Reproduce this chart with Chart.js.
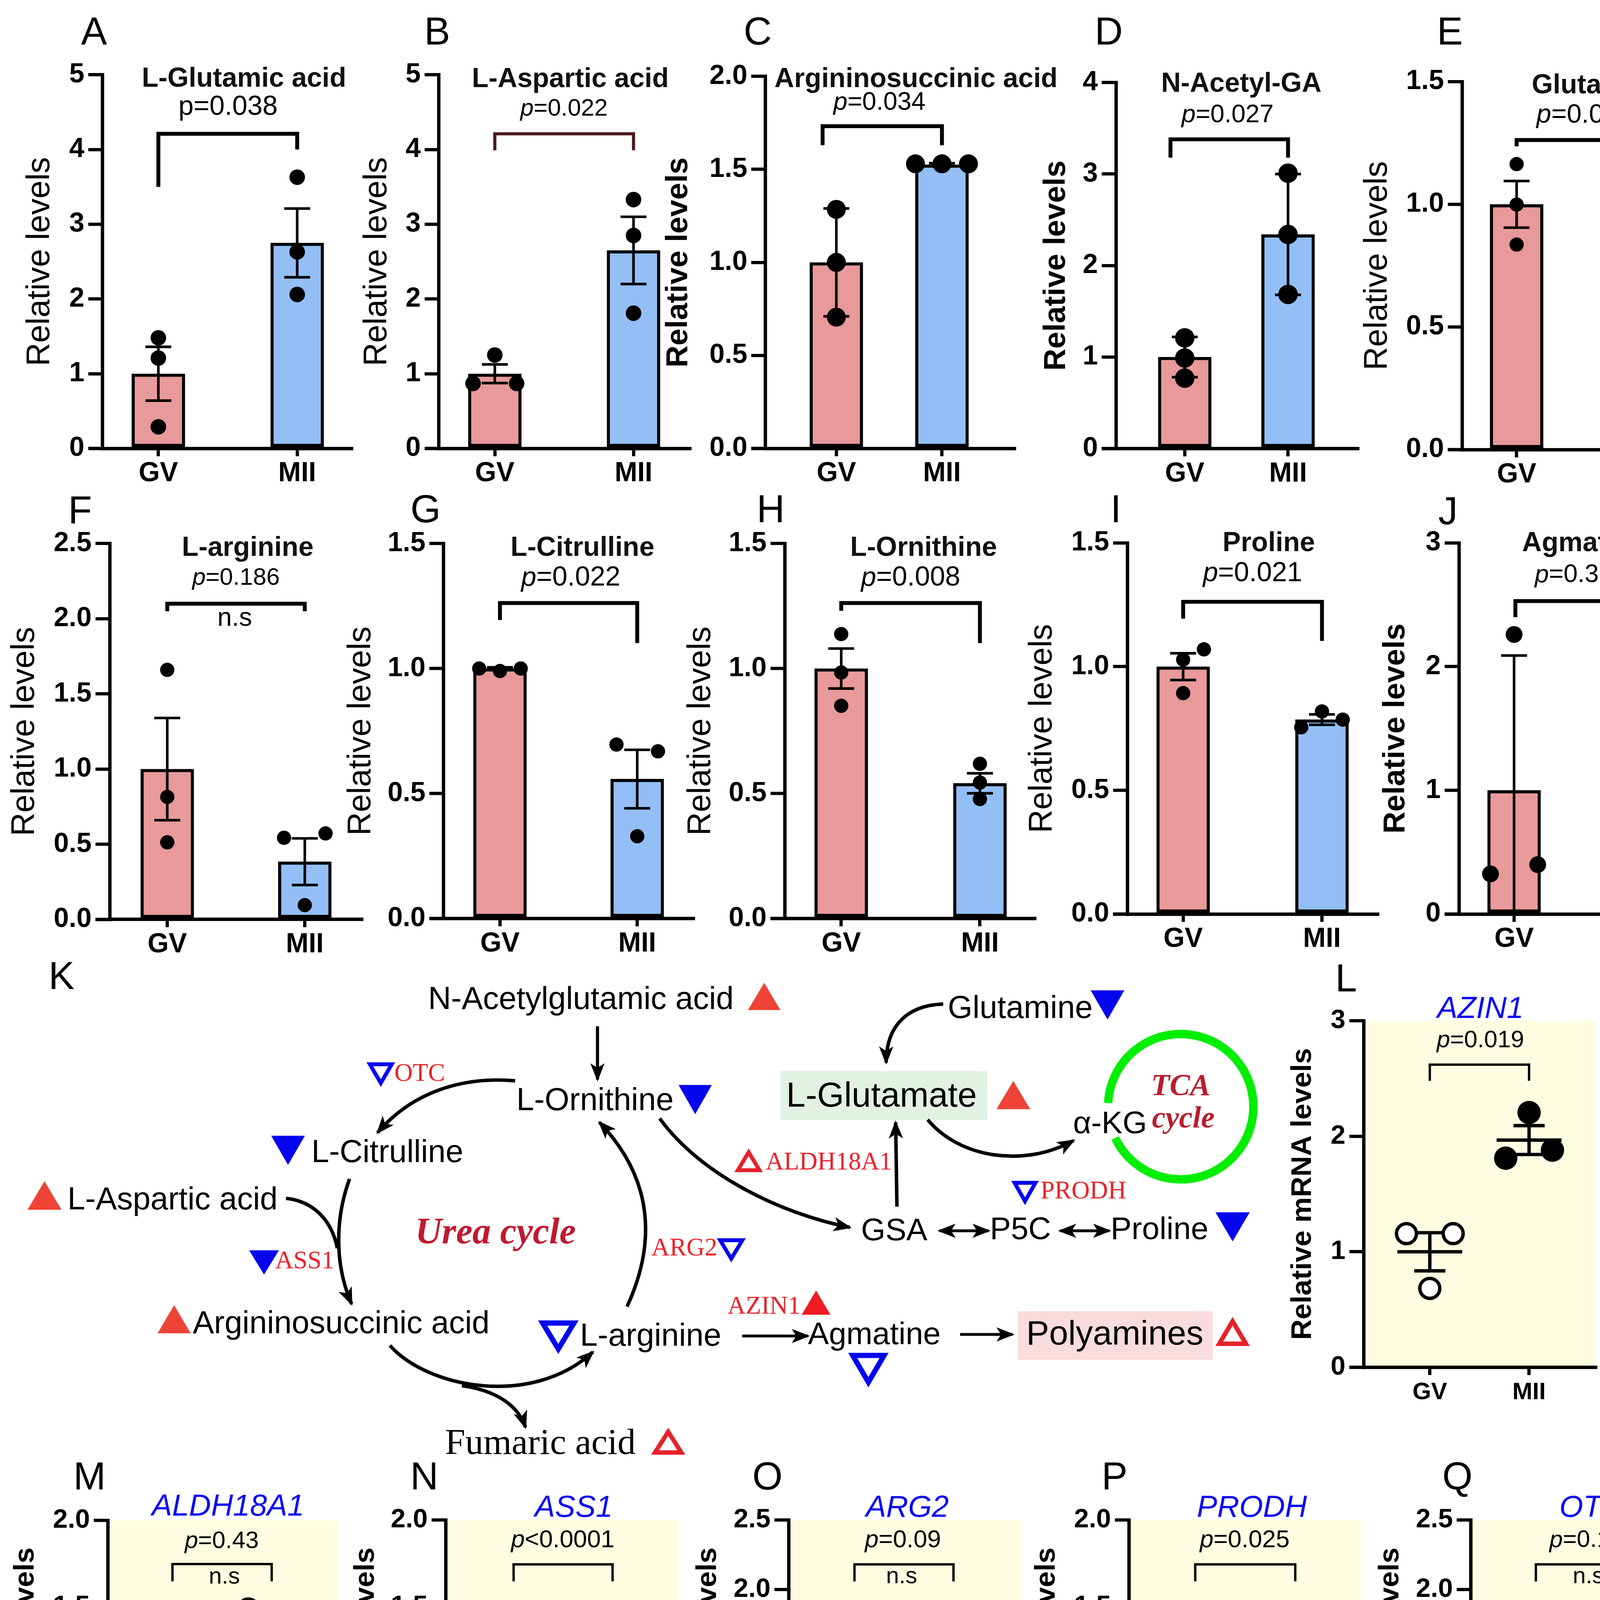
<!DOCTYPE html>
<html>
<head>
<meta charset="utf-8">
<title>Urea cycle and glutamate metabolism: GV vs MII</title>
<script src="https://cdn.jsdelivr.net/npm/chart.js@4.4.1/dist/chart.umd.min.js"></script>
<style>
html,body{margin:0;padding:0;background:#fff;}
#root{position:relative;width:4401px;height:5215px;overflow:hidden;background:#fff;}
#root canvas{position:absolute;}
#diagram{position:absolute;left:0;top:0;width:4401px;height:5215px;}
</style>
</head>
<body>
<div id="root"><div id="diagram"></div></div>
<script>
// ================= DATA =================
const groups = ['GV', 'MII'];

const ticks0to5  = ['0', '1', '2', '3', '4', '5'];
const ticks0to4  = ['0', '1', '2', '3', '4'];
const ticks0to3  = ['0', '1', '2', '3'];
const ticks0to2  = ['0.0', '0.5', '1.0', '1.5', '2.0'];
const ticks0to15 = ['0.0', '0.5', '1.0', '1.5'];
const ticks0to25 = ['0.0', '0.5', '1.0', '1.5', '2.0', '2.5'];

// A  L-Glutamic acid
const glutamicGV = [1.48, 1.21, 0.29];
const glutamicMII = [3.63, 2.63, 2.06];
const glutamicMean = [1.0, 2.75];
const glutamicErr = [0.36, 0.46];
// B  L-Aspartic acid
const asparticGV = [1.25, 0.87, 0.87];
const asparticMII = [3.33, 2.85, 1.81];
const asparticMean = [1.0, 2.65];
const asparticErr = [0.125, 0.45];
// C  Argininosuccinic acid
const asaGV = [1.285, 1.0, 0.706];
const asaMII = [1.53, 1.53, 1.53];
const asaMean = [1.0, 1.525];
const asaErr = [0.29, 0.008];
// D  N-Acetyl-GA
const nagGV = [1.21, 0.99, 0.77];
const nagMII = [3.01, 2.34, 1.685];
const nagMean = [1.0, 2.34];
const nagErr = [0.22, 0.66];
// E  Glutamine
const glnGV = [1.164, 0.999, 0.836];
const glnMII = [0.614, 0.474, 0.34];
const glnMean = [1.0, 0.474];
const glnErr = [0.095, 0.08];
// F  L-arginine
const arginineGV = [1.66, 0.815, 0.513];
const arginineMII = [0.543, 0.572, 0.095];
const arginineMean = [1.0, 0.384];
const arginineErr = [0.34, 0.155];
// G  L-Citrulline
const citrullineGV = [0.99, 1.0, 1.0];
const citrullineMII = [0.696, 0.669, 0.329];
const citrullineMean = [1.0, 0.558];
const citrullineErr = [0.005, 0.117];
// H  L-Ornithine
const ornithineGV = [1.138, 0.984, 0.851];
const ornithineMII = [0.619, 0.544, 0.478];
const ornithineMean = [1.0, 0.541];
const ornithineErr = [0.08, 0.04];
// I  Proline
const prolineGV = [1.028, 1.07, 0.893];
const prolineMII = [0.755, 0.819, 0.786];
const prolineMean = [1.0, 0.786];
const prolineErr = [0.054, 0.021];
// J  Agmatine
const agmatineGV = [2.26, 0.325, 0.40];
const agmatineMII = [0.75, 0.096, 0.176];
const agmatineMean = [1.0, 0.325];
const agmatineErr = [1.09, 0.365];
// L  AZIN1
const azin1GV = [1.157, 1.157, 0.683];
const azin1MII = [2.205, 1.81, 1.88];
const azin1Mean = [1.0, 1.967];
const azin1Err = [0.165, 0.125];
// M  ALDH18A1
const aldhGV = [1.093, 1.013, 0.894];
const aldhMII = [1.487, 1.452, 1.212];
const aldhMean = [1.0, 1.382];
const aldhErr = [0.058, 0.09];
// N  ASS1
const ass1GV = [1.31, 1.147, 0.543];
const ass1MII = [0, 0, 0];
const ass1Mean = [1.0, 0];
const ass1Err = [0.233, 0];
// O  ARG2
const arg2GV = [1.627, 0.683, 0.694];
const arg2MII = [0.565, 0.506, 0.442];
const arg2Mean = [1.0, 0.506];
const arg2Err = [0.31, 0.036];
// P  PRODH
const prodhGV = [1.414, 1.172, 0.414];
const prodhMII = [0.276, 0.043, 0.047];
const prodhMean = [1.0, 0.116];
const prodhErr = [0.3, 0.077];
// Q  OTC
const otcGV = [1.825, 1.168, 0.01];
const otcMII = [0.114, 0.037, 0.047];
const otcMean = [1.0, 0.066];
const otcErr = [0.53, 0.025];

// ================= STYLE / LAYOUT =================
const S = 4401 / 1325;
const SANS = '"Liberation Sans", Arial, sans-serif';
const SERIF = '"Liberation Serif", "Times New Roman", serif';
const PINK = '#E79A99', BLUE = '#93BFF6', YELLOW = '#FEFDE1';
const root = document.getElementById('root');

function swarm(vals, r, step, pyu, thr) {
  const d = 2 * r * 0.98;
  const placed = [];
  const slots = [0, 1, -1, 2, -2, 3, -3];
  vals.forEach(v => {
    for (const s of slots) {
      if (placed.every(q => Math.hypot((q.s - s) * step, (q.v - v) * pyu) >= d)) { placed.push({v, s}); return; }
    }
    placed.push({v, s: 0});
  });
  placed.forEach(p => {
    if (p.s !== 1) return;
    const c = placed.filter(q => q.s === 0 && Math.abs(q.v - p.v) * pyu < thr * 2 * r)
      .sort((a, b) => Math.abs(a.v - p.v) - Math.abs(b.v - p.v))[0];
    if (!c) return;
    if (placed.every(o => o === c || Math.hypot((o.s + 1) * step, (o.v - c.v) * pyu) >= d)) c.s = -1;
  });
  return placed.map(q => q.s * step);
}

function makePanel(p) {
  const rowTop = p.canvasTop;
  const cl = p.yLabel.x - 16;
  const cr = p.rightX + 45;
  const cb = p.zeroY + 36;
  const W = Math.round((cr - cl) * S), H = Math.round((cb - rowTop) * S);
  const yW = (p.axisX - cl) * S;
  const padTop = (p.topY - rowTop) * S;
  const padRight = W - (p.rightX - cl) * S;
  const xH = H - (p.zeroY - rowTop) * S;
  const cv = document.createElement('canvas');
  cv.width = W; cv.height = H;
  cv.style.left = (cl * S) + 'px'; cv.style.top = (rowTop * S) + 'px';
  cv.style.width = W + 'px'; cv.style.height = H + 'px';
  root.appendChild(cv);

  const unit = p.miiX - p.gvX;
  const xMin = 1 - (p.gvX - p.axisX) / unit;
  const xMax = 2 + (p.rightX - p.miiX) / unit;
  const yMax = parseFloat(p.ticks[p.ticks.length - 1]);
  const pyu = (p.zeroY - p.topY) / yMax;
  const isBar = p.kind === 'bar';
  const step = isBar ? Math.max(16, 2.8 * p.r) : 2 * p.r;
  const thr = isBar ? 0.65 : 0.5;
  const offG = swarm(p.gv, p.r, step, pyu, thr);
  const offM = swarm(p.mii, p.r, step, pyu, thr);
  const ptsG = p.gv.map((v, i) => ({x: 1 + offG[i] / unit, y: v}));
  const ptsM = p.mii.map((v, i) => ({x: 2 + offM[i] / unit, y: v}));

  const datasets = [];
  if (isBar) {
    datasets.push({type: 'bar', data: [{x: 1, y: p.mean[0]}, {x: 2, y: p.mean[1]}],
      backgroundColor: [PINK, BLUE], borderColor: '#000', borderWidth: 2.4 * S, borderSkipped: false,
      barThickness: 41 * S, order: 2, clip: false});
    datasets.push({type: 'scatter', data: ptsG.concat(ptsM), pointRadius: p.r * S,
      pointBackgroundColor: '#000', pointBorderColor: '#000', pointBorderWidth: 0, order: 1, clip: false});
  } else {
    datasets.push({type: 'scatter', data: ptsG, pointRadius: (p.r - 1.3) * S,
      pointBackgroundColor: '#fff', pointBorderColor: '#000', pointBorderWidth: 2.6 * S, order: 2, clip: false});
    datasets.push({type: 'scatter', data: ptsM, pointRadius: p.r * S,
      pointBackgroundColor: '#000', pointBorderColor: '#000', pointBorderWidth: 0, order: 1, clip: false});
  }

  const X = x => (x - cl) * S, Y = y => (y - rowTop) * S;

  function errBars(chart, withMean) {
    const ctx = chart.ctx, xs = chart.scales.x, ys = chart.scales.y;
    ctx.save();
    ctx.strokeStyle = '#000';
    ctx.lineWidth = (withMean ? 2.6 : 2.0) * S;
    ctx.lineCap = 'butt';
    const capH = (withMean ? 12 : 10) * S, meanH = 25 * S;
    [0, 1].forEach(i => {
      const x = xs.getPixelForValue(i + 1);
      const m = p.mean[i], e = p.err[i];
      const top = ys.getPixelForValue(m + e);
      const lowV = Math.max(0, m - e);
      const bot = ys.getPixelForValue(lowV);
      ctx.beginPath();
      ctx.moveTo(x, top); ctx.lineTo(x, bot);
      ctx.moveTo(x - capH, top); ctx.lineTo(x + capH, top);
      if (m - e > 0) { ctx.moveTo(x - capH, bot); ctx.lineTo(x + capH, bot); }
      if (withMean) {
        const mp = ys.getPixelForValue(m);
        ctx.moveTo(x - meanH, mp); ctx.lineTo(x + meanH, mp);
      }
      ctx.stroke();
    });
    ctx.restore();
  }

  const plugin = {
    id: 'panel' + p.id,
    beforeDraw(chart) {
      if (!isBar) {
        const a = chart.chartArea, ctx = chart.ctx;
        ctx.save(); ctx.fillStyle = YELLOW;
        ctx.fillRect(a.left, a.top, a.right - a.left, a.bottom - a.top);
        ctx.restore();
      }
    },
    beforeDatasetsDraw(chart) {
      const a = chart.chartArea, ctx = chart.ctx;
      ctx.save(); ctx.strokeStyle = '#000'; ctx.lineWidth = 2.6 * S;
      ctx.beginPath(); ctx.moveTo(a.left - 11 * S, a.bottom); ctx.lineTo(a.left, a.bottom); ctx.stroke();
      ctx.restore();
      if (!isBar) errBars(chart, true);
    },
    afterDatasetDraw(chart, args) { if (isBar && args.index === 0) errBars(chart, false); },
    afterDraw(chart) {
      const ctx = chart.ctx, xs = chart.scales.x, ys = chart.scales.y;
      ctx.save();
      // significance bracket
      const b = p.bracket;
      const bx1 = b.lx != null ? X(b.lx) : xs.getPixelForValue(1);
      const bx2 = b.rx != null ? X(b.rx) : xs.getPixelForValue(2);
      ctx.strokeStyle = b.color || '#000';
      ctx.lineWidth = b.lw * S; ctx.lineJoin = 'miter'; ctx.lineCap = 'butt';
      ctx.beginPath();
      ctx.moveTo(bx1, ys.getPixelForValue(b.l));
      ctx.lineTo(bx1, ys.getPixelForValue(b.top));
      ctx.lineTo(bx2, ys.getPixelForValue(b.top));
      ctx.lineTo(bx2, ys.getPixelForValue(b.r));
      ctx.stroke();
      // title
      ctx.textBaseline = 'middle';
      ctx.textAlign = 'center';
      const t = p.title;
      if (t.gene) {
        ctx.fillStyle = '#0A0AF5';
        ctx.font = 'italic ' + (23.5 * S) + 'px ' + SANS;
      } else {
        ctx.fillStyle = '#111';
        ctx.font = 'bold ' + (21 * S) + 'px ' + SANS;
      }
      ctx.fillText(t.text, X(t.x), Y(t.y));
      // p value
      const pt = p.pText;
      const f1 = (pt.italicP ? 'italic ' : '') + (pt.size * S) + 'px ' + SANS;
      const f2 = (pt.size * S) + 'px ' + SANS;
      ctx.fillStyle = '#000';
      ctx.font = f1; const w1 = ctx.measureText('p').width;
      ctx.font = f2; const rest = pt.text.slice(1); const w2 = ctx.measureText(rest).width;
      const sx = X(pt.x) - (w1 + w2) / 2;
      ctx.textAlign = 'left';
      ctx.font = f1; ctx.fillText('p', sx, Y(pt.y));
      ctx.font = f2; ctx.fillText(rest, sx + w1, Y(pt.y));
      // n.s
      if (p.ns) {
        ctx.textAlign = 'center';
        ctx.font = (p.ns.size * S) + 'px ' + SANS;
        ctx.fillText('n.s', X(p.ns.x), Y(p.ns.y));
      }
      ctx.restore();
    }
  };

  const gridY = {display: true, drawOnChartArea: false, drawTicks: true, tickLength: 11 * S,
    tickWidth: 2.5 * S, tickColor: '#000', color: '#000', lineWidth: 2.5 * S};
  const gridX = {display: true, offset: false, drawOnChartArea: false, drawTicks: true, tickLength: 6 * S,
    tickWidth: 2.5 * S, tickColor: '#000', color: '#000', lineWidth: 2.5 * S};

  new Chart(cv, {
    type: 'scatter',
    data: {datasets},
    options: {
      responsive: false, animation: false, devicePixelRatio: 1, events: [],
      layout: {padding: {top: padTop, right: padRight, left: 0, bottom: 0}},
      plugins: {legend: {display: false}, tooltip: {enabled: false}, title: {display: false}},
      scales: {
        x: {type: 'linear', min: xMin, max: xMax, offset: false, bounds: 'data',
          afterBuildTicks: s => { s.ticks = [{value: 1}, {value: 2}]; },
          afterFit: s => { s.height = xH; },
          grid: gridX,
          border: {display: true, color: '#000', width: 2.6 * S},
          ticks: {color: '#000', padding: (19.6 - 6 - p.xSize / 2) * S, maxRotation: 0, autoSkip: false,
            font: {family: SANS, size: p.xSize * S, weight: 'bold', lineHeight: 1},
            callback: v => groups[Math.round(v) - 1]}},
        y: {type: 'linear', min: 0, max: yMax,
          afterBuildTicks: s => { s.ticks = p.ticks.map(t => ({value: parseFloat(t)})); },
          afterFit: s => { s.width = yW; },
          grid: gridY,
          border: {display: true, color: '#000', width: 2.6 * S},
          ticks: {color: '#000', padding: 3 * S, autoSkip: false,
            font: {family: SANS, size: p.tickSize * S, weight: 'bold', lineHeight: 1},
            callback: (v, i) => p.ticks[i]},
          title: {display: true, text: p.yLabel.text, color: '#000',
            font: {family: SANS, size: p.yLabel.size * S, weight: p.yLabel.bold ? 'bold' : 'normal', lineHeight: 1},
            padding: {top: (p.yLabel.x - cl) * S - p.yLabel.size * S / 2, bottom: 0}}}
      }
    },
    plugins: [plugin]
  });
}

const RL = 'Relative levels', RM = 'Relative mRNA levels';
const row1 = {kind: 'bar', canvasTop: 40, tickSize: 21, xSize: 21};
const row2 = {kind: 'bar', canvasTop: 405, tickSize: 21, xSize: 21};
const rowL = {kind: 'dot', canvasTop: 765, tickSize: 20.5, xSize: 18.5, r: 9};
const row4 = {kind: 'dot', canvasTop: 1145, tickSize: 20.5, xSize: 18.5, r: 9};

const panels = [
  Object.assign({}, row1, {id: 'A', axisX: 79, rightX: 271, gvX: 122, miiX: 229, zeroY: 345.6, topY: 57.6,
    ticks: ticks0to5, gv: glutamicGV, mii: glutamicMII, mean: glutamicMean, err: glutamicErr, r: 6,
    yLabel: {text: RL, x: 31, bold: false, size: 25},
    title: {text: 'L-Glutamic acid', x: 188, y: 61},
    pText: {text: 'p=0.038', x: 175.7, y: 82.7, size: 21, italicP: false},
    bracket: {top: 4.21, l: 3.5, r: 4.0, lw: 3}}),
  Object.assign({}, row1, {id: 'B', axisX: 338.4, rightX: 532, gvX: 381.5, miiX: 488.4, zeroY: 345.6, topY: 57.6,
    ticks: ticks0to5, gv: asparticGV, mii: asparticMII, mean: asparticMean, err: asparticErr, r: 6,
    yLabel: {text: RL, x: 291, bold: false, size: 25},
    title: {text: 'L-Aspartic acid', x: 439.7, y: 61.2},
    pText: {text: 'p=0.022', x: 434.8, y: 84, size: 18.5, italicP: true},
    bracket: {top: 4.21, l: 3.99, r: 3.99, lw: 2.4, color: '#4A1A1A'}}),
  Object.assign({}, row1, {id: 'C', axisX: 590, rightX: 782, gvX: 644.6, miiX: 726, zeroY: 345.6, topY: 58.8,
    ticks: ticks0to2, gv: asaGV, mii: asaMII, mean: asaMean, err: asaErr, r: 7.3,
    yLabel: {text: RL, x: 523, bold: true, size: 23.5},
    title: {text: 'Argininosuccinic acid', x: 706, y: 61.2},
    pText: {text: 'p=0.034', x: 677.8, y: 79.2, size: 19.5, italicP: true},
    bracket: {top: 1.732, l: 1.63, r: 1.63, lw: 3, lx: 634}}),
  Object.assign({}, row1, {id: 'D', axisX: 860, rightX: 1046.5, gvX: 913, miiX: 992.6, zeroY: 345.7, topY: 63.6,
    ticks: ticks0to4, gv: nagGV, mii: nagMII, mean: nagMean, err: nagErr, r: 7.5,
    yLabel: {text: RL, x: 814, bold: true, size: 23.5},
    title: {text: 'N-Acetyl-GA', x: 956.6, y: 64.8},
    pText: {text: 'p=0.027', x: 946, y: 88.8, size: 19.5, italicP: true},
    bracket: {top: 3.38, l: 3.18, r: 3.18, lw: 3, lx: 902}}),
  Object.assign({}, row1, {id: 'E', axisX: 1127, rightX: 1317, gvX: 1169, miiX: 1274.5, zeroY: 346.5, topY: 62.9,
    ticks: ticks0to15, gv: glnGV, mii: glnMII, mean: glnMean, err: glnErr, r: 5.5,
    yLabel: {text: RL, x: 1062, bold: false, size: 25},
    title: {text: 'Glutamine', x: 1232, y: 66},
    pText: {text: 'p=0.013', x: 1221.6, y: 88.8, size: 20.5, italicP: true},
    bracket: {top: 1.262, l: 1.236, r: 1.106, lw: 3}}),
  Object.assign({}, row2, {id: 'F', axisX: 84.7, rightX: 279, gvX: 129, miiX: 235, zeroY: 708.7, topY: 419,
    ticks: ticks0to25, gv: arginineGV, mii: arginineMII, mean: arginineMean, err: arginineErr, r: 5.5,
    yLabel: {text: RL, x: 19.4, bold: false, size: 25},
    title: {text: 'L-arginine', x: 191, y: 422.6},
    pText: {text: 'p=0.186', x: 182, y: 445.7, size: 18.5, italicP: true},
    ns: {x: 181, y: 476.8, size: 20},
    bracket: {top: 2.10, l: 2.05, r: 2.05, lw: 3}}),
  Object.assign({}, row2, {id: 'G', axisX: 342, rightX: 534.4, gvX: 385.4, miiX: 491.2, zeroY: 708, topY: 419,
    ticks: ticks0to15, gv: citrullineGV, mii: citrullineMII, mean: citrullineMean, err: citrullineErr, r: 5.5,
    yLabel: {text: RL, x: 278.6, bold: false, size: 25},
    title: {text: 'L-Citrulline', x: 449, y: 422.6},
    pText: {text: 'p=0.022', x: 440, y: 445.7, size: 21, italicP: true},
    bracket: {top: 1.262, l: 1.194, r: 1.102, lw: 3}}),
  Object.assign({}, row2, {id: 'H', axisX: 605, rightX: 797.6, gvX: 648.5, miiX: 755.4, zeroY: 708, topY: 419,
    ticks: ticks0to15, gv: ornithineGV, mii: ornithineMII, mean: ornithineMean, err: ornithineErr, r: 5.5,
    yLabel: {text: RL, x: 540.6, bold: false, size: 25},
    title: {text: 'L-Ornithine', x: 712, y: 422.6},
    pText: {text: 'p=0.008', x: 702, y: 445.7, size: 21, italicP: true},
    bracket: {top: 1.262, l: 1.231, r: 1.102, lw: 3}}),
  Object.assign({}, row2, {id: 'I', axisX: 869, rightX: 1062, gvX: 912, miiX: 1019, zeroY: 704.6, topY: 415.5,
    ticks: ticks0to15, gv: prolineGV, mii: prolineMII, mean: prolineMean, err: prolineErr, r: 5.5,
    yLabel: {text: RL, x: 803.7, bold: false, size: 25},
    title: {text: 'Proline', x: 978, y: 419},
    pText: {text: 'p=0.021', x: 965.5, y: 442.2, size: 21, italicP: true},
    bracket: {top: 1.262, l: 1.194, r: 1.104, lw: 3}}),
  Object.assign({}, row2, {id: 'J', axisX: 1124.5, rightX: 1318, gvX: 1167, miiX: 1273, zeroY: 704.6, topY: 417.8,
    ticks: ticks0to3, gv: agmatineGV, mii: agmatineMII, mean: agmatineMean, err: agmatineErr, r: 6.5,
    yLabel: {text: RL, x: 1075.8, bold: true, size: 23.5},
    title: {text: 'Agmatine', x: 1221, y: 419.1},
    pText: {text: 'p=0.37', x: 1213, y: 443.4, size: 19.5, italicP: true},
    bracket: {top: 2.53, l: 2.40, r: 2.40, lw: 3, lx: 1168, rx: 1260}}),
  Object.assign({}, rowL, {id: 'L', axisX: 1051, rightX: 1230, gvX: 1102, miiX: 1178.5, zeroY: 1053.8, topY: 786.7,
    ticks: ticks0to3, gv: azin1GV, mii: azin1MII, mean: azin1Mean, err: azin1Err,
    yLabel: {text: RM, x: 1004.4, bold: true, size: 22},
    title: {text: 'AZIN1', x: 1141, y: 778, gene: true},
    pText: {text: 'p=0.019', x: 1141, y: 802.1, size: 18.5, italicP: true},
    bracket: {top: 2.62, l: 2.48, r: 2.48, lw: 1.8}}),
  Object.assign({}, row4, {id: 'M', axisX: 83.4, rightX: 260.8, gvX: 133, miiX: 209.5, zeroY: 1438.5, topY: 1171.8,
    ticks: ticks0to2, gv: aldhGV, mii: aldhMII, mean: aldhMean, err: aldhErr,
    yLabel: {text: RM, x: 20, bold: true, size: 22},
    title: {text: 'ALDH18A1', x: 175.8, y: 1161.5, gene: true},
    pText: {text: 'p=0.43', x: 171, y: 1188, size: 18.5, italicP: true},
    ns: {x: 173, y: 1215.6, size: 18},
    bracket: {top: 1.747, l: 1.647, r: 1.647, lw: 1.8}}),
  Object.assign({}, row4, {id: 'N', axisX: 343.5, rightX: 523, gvX: 395.7, miiX: 472, zeroY: 1439, topY: 1171.5,
    ticks: ticks0to2, gv: ass1GV, mii: ass1MII, mean: ass1Mean, err: ass1Err,
    yLabel: {text: RM, x: 282, bold: true, size: 22},
    title: {text: 'ASS1', x: 442, y: 1162.4, gene: true},
    pText: {text: 'p<0.0001', x: 433.6, y: 1187.3, size: 19, italicP: true},
    bracket: {top: 1.744, l: 1.646, r: 1.646, lw: 1.8}}),
  Object.assign({}, row4, {id: 'O', axisX: 608, rightX: 787, gvX: 658.7, miiX: 735, zeroY: 1439, topY: 1171.5,
    ticks: ticks0to25, gv: arg2GV, mii: arg2MII, mean: arg2Mean, err: arg2Err,
    yLabel: {text: RM, x: 546, bold: true, size: 22},
    title: {text: 'ARG2', x: 699.4, y: 1162.4, gene: true},
    pText: {text: 'p=0.09', x: 696, y: 1187.3, size: 19, italicP: true},
    ns: {x: 695, y: 1215.4, size: 18},
    bracket: {top: 2.18, l: 2.057, r: 2.057, lw: 1.8}}),
  Object.assign({}, row4, {id: 'P', axisX: 870.4, rightX: 1048.6, gvX: 921.3, miiX: 998.4, zeroY: 1439, topY: 1171.5,
    ticks: ticks0to2, gv: prodhGV, mii: prodhMII, mean: prodhMean, err: prodhErr,
    yLabel: {text: RM, x: 807, bold: true, size: 22},
    title: {text: 'PRODH', x: 965, y: 1162.4, gene: true},
    pText: {text: 'p=0.025', x: 959.4, y: 1187.3, size: 19, italicP: true},
    bracket: {top: 1.744, l: 1.646, r: 1.646, lw: 1.8}}),
  Object.assign({}, row4, {id: 'Q', axisX: 1133.6, rightX: 1311.5, gvX: 1183.6, miiX: 1260.6, zeroY: 1439, topY: 1171.5,
    ticks: ticks0to25, gv: otcGV, mii: otcMII, mean: otcMean, err: otcErr,
    yLabel: {text: RM, x: 1071.7, bold: true, size: 22},
    title: {text: 'OTC', x: 1226.5, y: 1162.4, gene: true},
    pText: {text: 'p=0.14', x: 1222.6, y: 1187.3, size: 18.5, italicP: true},
    ns: {x: 1224, y: 1215.4, size: 18},
    bracket: {top: 2.18, l: 2.057, r: 2.057, lw: 1.8}})
];

// ================= DIAGRAM (panel K), panel letters, abbreviation box =================
const VH = 5215 / S;
let svg = '';
function text(str, x, y, size, o) {
  o = o || {};
  svg += `<text x="${x}" y="${y}" font-family='${o.family || SANS}' font-size="${size}" ` +
    `font-weight="${o.weight || 'normal'}" font-style="${o.style || 'normal'}" fill="${o.fill || '#000'}" ` +
    `text-anchor="${o.anchor || 'start'}" dominant-baseline="central">${str}</text>`;
}
function tri(cx, cy, w, h, up, color, open) {
  let ww = w, hh = h, sw = 0;
  if (open) { sw = Math.max(3, w * 0.13); ww = w - 1.7 * sw; hh = h - 1.5 * sw; }
  const pts = up
    ? [[cx - ww / 2, cy + hh / 2], [cx + ww / 2, cy + hh / 2], [cx, cy - hh / 2]]
    : [[cx - ww / 2, cy - hh / 2], [cx + ww / 2, cy - hh / 2], [cx, cy + hh / 2]];
  const ps = pts.map(q => q[0].toFixed(2) + ',' + q[1].toFixed(2)).join(' ');
  if (open) svg += `<polygon points="${ps}" fill="none" stroke="${color}" stroke-width="${sw}" stroke-linejoin="miter"/>`;
  else svg += `<polygon points="${ps}" fill="${color}"/>`;
}
function path(d, sw, end, start) {
  svg += `<path d="${d}" fill="none" stroke="#000" stroke-width="${sw}" ` +
    (end ? 'marker-end="url(#ah)" ' : '') + (start ? 'marker-start="url(#ah)" ' : '') + '/>';
}
const RED_T = '#EE4336', BLUE_T = '#0505EE', RED_O = '#E8202A', RED_L = '#EC2229', DARK_RED = '#C0192F';

[['A', 72.5, 24], ['B', 337, 24], ['C', 584, 24], ['D', 854.6, 24], ['E', 1117.5, 24],
 ['F', 61.7, 393], ['G', 328, 392], ['H', 594, 392], ['I', 860, 392], ['J', 1116, 393.5],
 ['K', 47.4, 752], ['L', 1037.5, 753.7],
 ['M', 69, 1137.7], ['N', 327, 1137.6], ['O', 591.5, 1137.6], ['P', 859, 1137.6], ['Q', 1123.3, 1137.6]]
  .forEach(l => text(l[0], l[1], l[2], 30, {anchor: 'middle'}));

svg += `<rect x="601.5" y="825.5" width="159.5" height="37.7" fill="#E2F2E2"/>`;
svg += `<rect x="784.4" y="1010.5" width="150.2" height="37.5" fill="#F9DCDE"/>`;
svg += `<path d="M854.1,850.1 A56,56 0 1 1 859.5,877.1" fill="none" stroke="#00EE00" stroke-width="6.5"/>`;

path('M460.5,791 L460.5,832', 2.4, true);
path('M397,833 C350,829 314,846 291,873', 2.7, true);
path('M269.4,908.6 C258,940 258,975 271,1005', 2.7, true);
path('M220.4,923.6 C243,926 256,942 260,962', 2.7, false);
path('M300.5,1037 C330,1070 410,1085 457,1042', 2.7, true);
path('M356,1068 C385,1072 400,1085 405,1100', 2.7, true);
path('M483.3,1007 C505,960 505,910 462,865', 2.7, true);
path('M727,773.8 C695,775 683,795 683,819', 2.7, true);
path('M508.4,862 C540,905 600,935 655,946', 2.7, true);
path('M691.3,930 L690.3,865', 2.7, true);
path('M715,863 C740,893 790,900 827.5,879', 2.7, true);
path('M724,948.6 L762,948.6', 2.2, true, true);
path('M817,948.6 L855,948.6', 2.2, true, true);
path('M572,1029.7 L622.7,1029.7', 2.2, true);
path('M740,1028.5 L780.5,1028.5', 2.2, true);

text('N-Acetylglutamic acid', 330, 769, 24.5);
text('L-Ornithine', 398, 847, 24.5);
text('L-Citrulline', 240, 887, 24.5);
text('L-Aspartic acid', 52, 923.6, 24.5);
text('Argininosuccinic acid', 148.6, 1019, 24.5);
text('L-arginine', 447, 1028.5, 24.5);
text('Fumaric acid', 343, 1111, 28, {family: SERIF});
text('Glutamine', 730.5, 776, 24.5);
text('L-Glutamate', 606, 843.7, 26.7);
text('GSA', 663.6, 947.4, 24.2);
text('P5C', 763, 946.5, 24.2);
text('Proline', 856, 946.5, 24.2);
text('α-KG', 827, 865, 24.2);
text('Agmatine', 622.7, 1027.5, 24.2);
text('Polyamines', 791, 1027.3, 26.4);
text('OTC', 304, 826.5, 19.5, {family: SERIF, fill: RED_L});
text('ASS1', 212, 971, 19.5, {family: SERIF, fill: RED_L});
text('ALDH18A1', 590, 894.9, 19.5, {family: SERIF, fill: RED_L});
text('ARG2', 502, 961, 19.5, {family: SERIF, fill: RED_L});
text('AZIN1', 560.7, 1006, 19.5, {family: SERIF, fill: RED_L});
text('PRODH', 802, 917, 19.5, {family: SERIF, fill: RED_L});
text('Urea cycle', 320, 948.6, 28.4, {family: SERIF, weight: 'bold', style: 'italic', fill: DARK_RED});
text('TCA', 910, 836, 23.5, {family: SERIF, weight: 'bold', style: 'italic', fill: '#B81E2E', anchor: 'middle'});
text('cycle', 912, 861, 23.5, {family: SERIF, weight: 'bold', style: 'italic', fill: '#B81E2E', anchor: 'middle'});

tri(589, 768, 25, 21, true, RED_T, false);
tri(535.8, 847.5, 25.6, 22.5, false, BLUE_T, false);
tri(853.6, 774.5, 26, 22.5, false, BLUE_T, false);
tri(781, 844, 26, 21.8, true, RED_T, false);
tri(950, 945.6, 26.4, 22.4, false, BLUE_T, false);
tri(950, 1027, 26.4, 22.5, true, RED_O, true);
tri(669.3, 1055, 31, 26.7, false, BLUE_T, true);
tri(629, 1004, 22.2, 18.7, true, '#EE1C25', false);
tri(577, 895, 21.8, 18.4, true, RED_O, true);
tri(563.6, 963, 22.2, 18.7, false, BLUE_T, true);
tri(790, 918.7, 21.2, 18.6, false, BLUE_T, true);
tri(515, 1111.5, 26, 21, true, RED_O, true);
tri(293.5, 827.5, 22, 19, false, BLUE_T, true);
tri(222, 886.6, 26, 22.5, false, BLUE_T, false);
tri(34.3, 921.4, 26.2, 22, true, RED_T, false);
tri(203.5, 973, 23, 18.7, false, BLUE_T, false);
tri(134.2, 1016.8, 25.5, 21.7, true, RED_T, false);
tri(430.3, 1029.7, 31, 26, false, BLUE_T, true);

svg += `<rect x="8" y="1478" width="1297" height="77" fill="none" stroke="#000" stroke-width="1.4"/>`;
const lg = {family: SERIF};
text('AZIN1: Antizyme inhibitor 1', 17, 1500, 25, lg);
text('ASS1: argininosuccinate synthase 1', 340, 1500, 25, lg);
text('ARG2: Arginase 2', 729, 1500, 25, lg);
text('PRODH: proline dehydrogenase 1', 936, 1500, 25, lg);
text('ALDH18A1:Aldehyde Dehydrogenase 18 Family Member A1', 17, 1533, 25, lg);
text('OTC: Ornithine transcarbamylase', 729, 1533, 25, lg);

document.getElementById('diagram').innerHTML =
  `<svg xmlns="http://www.w3.org/2000/svg" width="4401" height="5215" viewBox="0 0 1325 ${VH.toFixed(3)}">` +
  `<defs><marker id="ah" viewBox="0 0 14 11" markerWidth="14" markerHeight="11" refX="12.5" refY="5.5" ` +
  `orient="auto-start-reverse" markerUnits="userSpaceOnUse"><path d="M0,0 L14,5.5 L0,11 L3.5,5.5 Z" fill="#000"/></marker></defs>` +
  svg + `</svg>`;

panels.forEach(makePanel);
</script>
</body>
</html>
